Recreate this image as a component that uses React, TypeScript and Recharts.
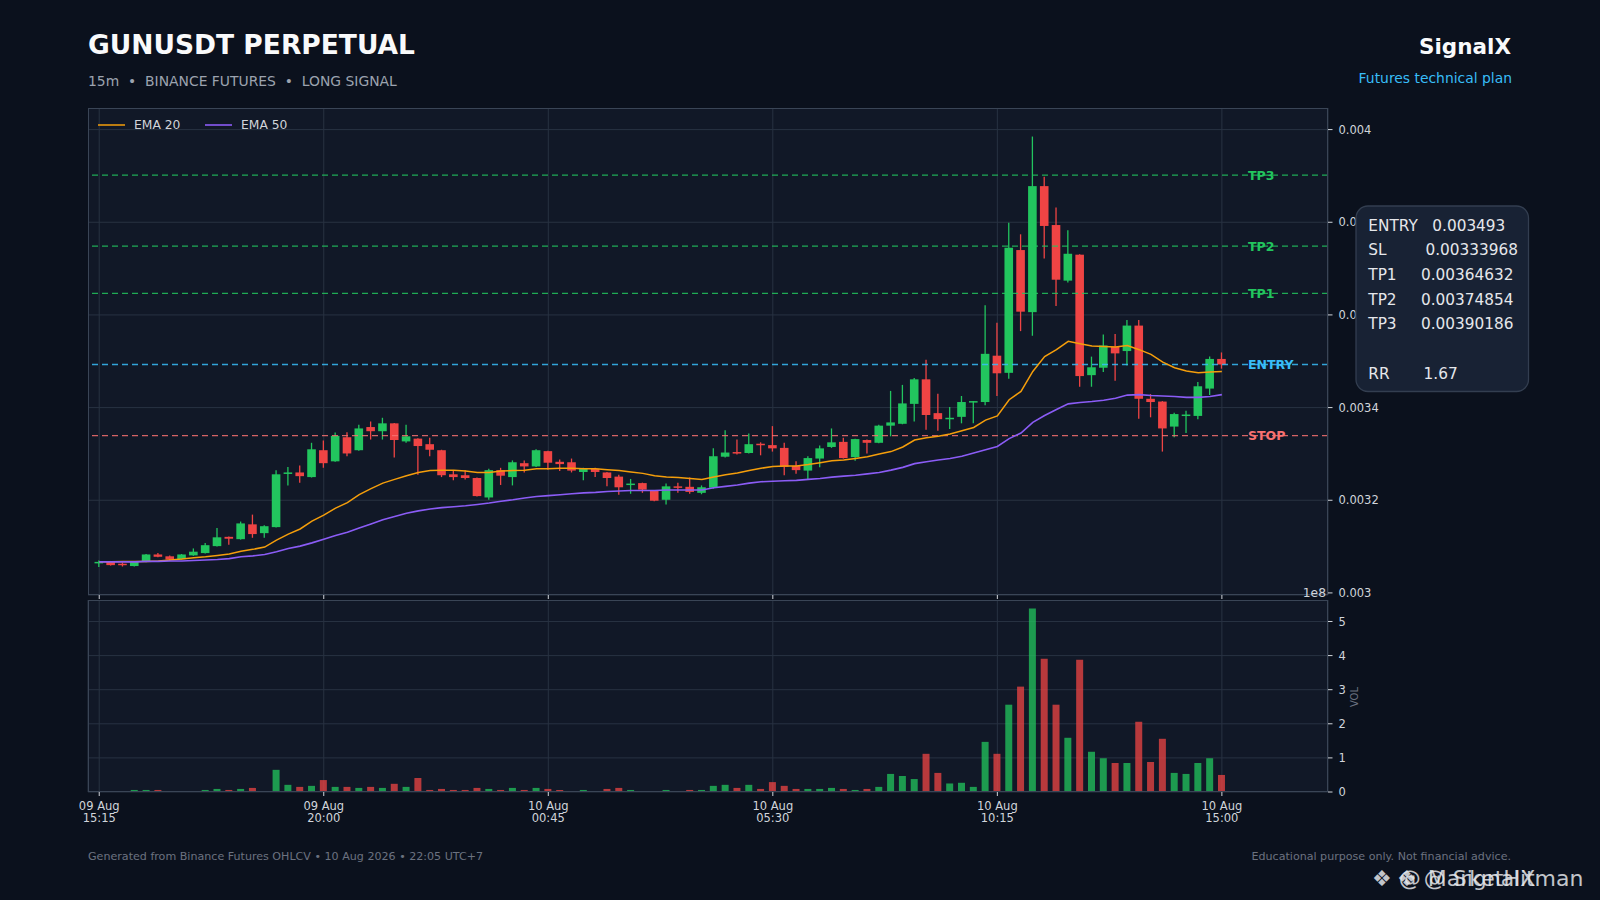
import React from 'react'
import {
  Bar, CartesianGrid, Cell, ComposedChart, Line, ReferenceLine, XAxis, YAxis,
} from 'recharts'

// 15m candles, 09 Aug 15:15 -> 10 Aug 15:00
const OPEN = [
  0.003066, 0.003068, 0.003063, 0.003058, 0.003067, 0.003083, 0.003079, 0.003073, 0.003081, 0.003086,
  0.003101, 0.003121, 0.003116, 0.003148, 0.003129, 0.003142, 0.003258, 0.003260, 0.003250, 0.003308,
  0.003284, 0.003336, 0.003308, 0.003358, 0.003349, 0.003366, 0.003327, 0.003333, 0.003321, 0.003308,
  0.003256, 0.003254, 0.003248, 0.003206, 0.003265, 0.003250, 0.003280, 0.003273, 0.003306, 0.003283,
  0.003282, 0.003261, 0.003268, 0.003260, 0.003251, 0.003233, 0.003237, 0.003222, 0.003201, 0.003230,
  0.003229, 0.003216, 0.003227, 0.003294, 0.003304, 0.003302, 0.003322, 0.003319, 0.003313, 0.003274,
  0.003264, 0.003290, 0.003315, 0.003326, 0.003293, 0.003330, 0.003324, 0.003361, 0.003365, 0.003408,
  0.003461, 0.003388, 0.003376, 0.003380, 0.003412, 0.003412, 0.003512, 0.003475, 0.003740, 0.003606,
  0.003878, 0.003794, 0.003674, 0.003730, 0.003470, 0.003486, 0.003531, 0.003522, 0.003577, 0.003419,
  0.003413, 0.003359, 0.003383, 0.003382, 0.003441, 0.003505,
]
const HIGH = [
  0.003070, 0.003069, 0.003066, 0.003068, 0.003084, 0.003086, 0.003081, 0.003084, 0.003096, 0.003108,
  0.003140, 0.003122, 0.003154, 0.003169, 0.003146, 0.003265, 0.003272, 0.003275, 0.003324, 0.003329,
  0.003346, 0.003347, 0.003363, 0.003370, 0.003378, 0.003367, 0.003363, 0.003334, 0.003335, 0.003309,
  0.003263, 0.003265, 0.003249, 0.003268, 0.003270, 0.003286, 0.003286, 0.003310, 0.003307, 0.003288,
  0.003290, 0.003270, 0.003270, 0.003261, 0.003255, 0.003246, 0.003238, 0.003222, 0.003236, 0.003238,
  0.003249, 0.003232, 0.003312, 0.003351, 0.003331, 0.003344, 0.003325, 0.003360, 0.003324, 0.003284,
  0.003295, 0.003318, 0.003355, 0.003335, 0.003333, 0.003331, 0.003363, 0.003436, 0.003449, 0.003464,
  0.003503, 0.003430, 0.003401, 0.003425, 0.003414, 0.003621, 0.003583, 0.003799, 0.003774, 0.003985,
  0.003898, 0.003832, 0.003783, 0.003731, 0.003510, 0.003558, 0.003559, 0.003589, 0.003589, 0.003429,
  0.003414, 0.003389, 0.003393, 0.003455, 0.003510, 0.003519,
]
const LOW = [
  0.003056, 0.003059, 0.003057, 0.003057, 0.003066, 0.003077, 0.003069, 0.003072, 0.003080, 0.003085,
  0.003100, 0.003104, 0.003115, 0.003119, 0.003119, 0.003141, 0.003232, 0.003238, 0.003249, 0.003270,
  0.003283, 0.003295, 0.003307, 0.003331, 0.003331, 0.003292, 0.003324, 0.003255, 0.003295, 0.003250,
  0.003243, 0.003245, 0.003208, 0.003201, 0.003233, 0.003232, 0.003260, 0.003272, 0.003266, 0.003263,
  0.003260, 0.003243, 0.003250, 0.003230, 0.003212, 0.003214, 0.003216, 0.003198, 0.003191, 0.003216,
  0.003214, 0.003213, 0.003225, 0.003292, 0.003299, 0.003301, 0.003297, 0.003305, 0.003254, 0.003257,
  0.003246, 0.003271, 0.003313, 0.003290, 0.003285, 0.003301, 0.003323, 0.003338, 0.003364, 0.003370,
  0.003352, 0.003350, 0.003354, 0.003366, 0.003366, 0.003405, 0.003425, 0.003462, 0.003565, 0.003555,
  0.003722, 0.003619, 0.003670, 0.003445, 0.003445, 0.003477, 0.003458, 0.003491, 0.003376, 0.003379,
  0.003305, 0.003336, 0.003345, 0.003375, 0.003427, 0.003484,
]
const CLOSE = [
  0.003067, 0.003060, 0.003060, 0.003067, 0.003083, 0.003078, 0.003072, 0.003083, 0.003089, 0.003103,
  0.003120, 0.003117, 0.003150, 0.003127, 0.003144, 0.003256, 0.003260, 0.003252, 0.003310, 0.003280,
  0.003339, 0.003301, 0.003355, 0.003349, 0.003366, 0.003330, 0.003338, 0.003317, 0.003309, 0.003254,
  0.003250, 0.003248, 0.003209, 0.003265, 0.003253, 0.003282, 0.003273, 0.003308, 0.003281, 0.003278,
  0.003264, 0.003269, 0.003261, 0.003248, 0.003228, 0.003236, 0.003223, 0.003199, 0.003230, 0.003227,
  0.003218, 0.003228, 0.003295, 0.003303, 0.003303, 0.003321, 0.003320, 0.003312, 0.003272, 0.003265,
  0.003291, 0.003312, 0.003325, 0.003291, 0.003332, 0.003324, 0.003361, 0.003368, 0.003409, 0.003461,
  0.003384, 0.003375, 0.003378, 0.003412, 0.003414, 0.003516, 0.003474, 0.003745, 0.003607, 0.003878,
  0.003792, 0.003676, 0.003732, 0.003468, 0.003487, 0.003534, 0.003517, 0.003577, 0.003419, 0.003412,
  0.003355, 0.003386, 0.003385, 0.003446, 0.003505, 0.003493,
]
// volume in units of 1e8
const VOLUME = [
  0.03, 0.03, 0.03, 0.06, 0.06, 0.06, 0.01, 0.03, 0.03, 0.06,
  0.09, 0.06, 0.09, 0.12, 0.03, 0.65, 0.21, 0.15, 0.18, 0.35,
  0.15, 0.15, 0.12, 0.15, 0.12, 0.24, 0.15, 0.41, 0.06, 0.09,
  0.06, 0.06, 0.12, 0.09, 0.06, 0.12, 0.06, 0.12, 0.09, 0.06,
  0.03, 0.06, 0.03, 0.09, 0.12, 0.06, 0.03, 0.03, 0.06, 0.03,
  0.06, 0.06, 0.18, 0.21, 0.12, 0.21, 0.09, 0.29, 0.18, 0.09,
  0.09, 0.09, 0.12, 0.09, 0.06, 0.09, 0.15, 0.53, 0.47, 0.38,
  1.12, 0.56, 0.25, 0.27, 0.15, 1.47, 1.12, 2.56, 3.09, 5.38,
  3.91, 2.56, 1.59, 3.88, 1.18, 0.99, 0.85, 0.85, 2.06, 0.88,
  1.56, 0.56, 0.53, 0.85, 0.99, 0.50,
]
const EMA20 = [
  0.003067, 0.003067, 0.003068, 0.003068, 0.003068, 0.003069, 0.003071, 0.003073, 0.003076, 0.003078,
  0.003081, 0.003084, 0.003090, 0.003094, 0.003099, 0.003114, 0.003127, 0.003138, 0.003155, 0.003168,
  0.003183, 0.003195, 0.003212, 0.003225, 0.003237, 0.003245, 0.003253, 0.003260, 0.003264, 0.003265,
  0.003265, 0.003263, 0.003260, 0.003260, 0.003263, 0.003264, 0.003265, 0.003268, 0.003268, 0.003269,
  0.003269, 0.003268, 0.003268, 0.003266, 0.003264, 0.003261, 0.003258, 0.003253, 0.003250, 0.003249,
  0.003247, 0.003245, 0.003250, 0.003255, 0.003259, 0.003264, 0.003269, 0.003273, 0.003274, 0.003274,
  0.003277, 0.003281, 0.003285, 0.003287, 0.003290, 0.003294, 0.003300, 0.003305, 0.003315, 0.003330,
  0.003335, 0.003338, 0.003343, 0.003350, 0.003357, 0.003373, 0.003382, 0.003417, 0.003435, 0.003478,
  0.003510, 0.003525, 0.003543, 0.003538, 0.003533, 0.003532, 0.003531, 0.003534, 0.003525, 0.003515,
  0.003498, 0.003486, 0.003479, 0.003475, 0.003477, 0.003478,
]
const EMA50 = [
  0.003067, 0.003067, 0.003067, 0.003067, 0.003068, 0.003068, 0.003069, 0.003069, 0.003070, 0.003071,
  0.003072, 0.003074, 0.003078, 0.003080, 0.003083, 0.003089, 0.003096, 0.003101, 0.003108, 0.003116,
  0.003124, 0.003131, 0.003140, 0.003149, 0.003158, 0.003165, 0.003172, 0.003177, 0.003181, 0.003184,
  0.003186, 0.003188, 0.003191, 0.003194, 0.003198, 0.003201, 0.003205, 0.003208, 0.003210, 0.003212,
  0.003214, 0.003216, 0.003217, 0.003219, 0.003220, 0.003221, 0.003221, 0.003221, 0.003222, 0.003222,
  0.003222, 0.003222, 0.003227, 0.003230, 0.003233, 0.003237, 0.003240, 0.003241, 0.003242, 0.003243,
  0.003245, 0.003247, 0.003250, 0.003252, 0.003254, 0.003257, 0.003260, 0.003265, 0.003271, 0.003279,
  0.003283, 0.003287, 0.003290, 0.003295, 0.003302, 0.003309, 0.003316, 0.003333, 0.003345, 0.003368,
  0.003383, 0.003396, 0.003408, 0.003411, 0.003413, 0.003416, 0.003420, 0.003427, 0.003428, 0.003426,
  0.003425, 0.003424, 0.003422, 0.003422, 0.003424, 0.003428,
]

const TICK_INDEX = [0, 19, 38, 57, 76, 95]
const TICK_DATE = ['09 Aug', '09 Aug', '10 Aug', '10 Aug', '10 Aug', '10 Aug']
const TICK_TIME = ['15:15', '20:00', '00:45', '05:30', '10:15', '15:00']
const PRICE_TICKS = [0.003, 0.0032, 0.0034, 0.0036, 0.0038, 0.004]
const VOL_TICKS = [0, 1, 2, 3, 4, 5]

const LEVEL_NAMES = ['TP3', 'TP2', 'TP1', 'ENTRY', 'STOP']
const LEVEL_VALUES = [0.00390186, 0.00374854, 0.00364632, 0.003493, 0.00333968]

const PLAN_LINES = [
  'ENTRY   0.003493',
  'SL        0.00333968',
  'TP1     0.00364632',
  'TP2     0.00374854',
  'TP3     0.00390186',
  '',
  'RR       1.67',
]

const FONT = '"DejaVu Sans", sans-serif'
const UP = '#22c55e'
const DOWN = '#ef4444'
const LEVEL_COLORS: Record<string, string> = {
  TP3: '#22c55e', TP2: '#22c55e', TP1: '#22c55e', ENTRY: '#38bdf8', STOP: '#f87171',
}
const GRID = '#283242'
const SPINE = '#3a4556'
const TICK_TEXT = '#d1d5db'

// layout (px)
const PLOT_L = 88
const PLOT_W = 1240
const AXIS_W = 72
const PRICE_T = 108
const PRICE_H = 487
const VOL_T = 600
const VOL_H = 192
const PAD_L = 40 // room for the first time label

const rows = OPEN.map((o, i) => ({
  i,
  open: o,
  high: HIGH[i],
  low: LOW[i],
  close: CLOSE[i],
  range: [LOW[i], HIGH[i]],
  ema20: EMA20[i],
  ema50: EMA50[i],
  volume: VOLUME[i] * 1e8,
}))

const fmtPrice = (v: number) => String(Number(v.toFixed(4)))

function Candle(props: any) {
  const { x, y, width, height, payload } = props
  if (!payload || !Number.isFinite(y) || !Number.isFinite(height)) return null
  const top = Math.min(y, y + height)
  const h = Math.abs(height)
  const { open, close, high, low } = payload
  const toY = (v: number) => top + ((high - v) / (high - low)) * h
  const cx = x + width / 2
  const color = close >= open ? UP : DOWN
  const bTop = toY(Math.max(open, close))
  const bBot = toY(Math.min(open, close))
  const bw = 8.6
  return (
    <g>
      <line x1={cx} x2={cx} y1={top} y2={top + h} stroke={color} strokeWidth={1.3} />
      <rect x={cx - bw / 2} y={bTop} width={bw} height={Math.max(bBot - bTop, 1.5)} fill={color} />
    </g>
  )
}

function LevelLabel(name: string) {
  return (props: any) => {
    const vb = props.viewBox
    if (!vb) return null
    return (
      <text
        x={vb.x + vb.width - 80}
        y={vb.y}
        dy={4.5}
        fill={LEVEL_COLORS[name]}
        fontSize={12.5}
        fontWeight="bold"
        fontFamily={FONT}
      >
        {name}
      </text>
    )
  }
}

function TimeTick(props: any) {
  const { x, y, payload } = props
  const k = TICK_INDEX.indexOf(payload.value)
  if (k < 0) return null
  return (
    <text x={x} y={y} textAnchor="middle" fill={TICK_TEXT} fontSize={11.5} fontFamily={FONT}>
      <tspan x={x} dy={12.3}>{TICK_DATE[k]}</tspan>
      <tspan x={x} dy={11.4}>{TICK_TIME[k]}</tspan>
    </text>
  )
}

const X_DOMAIN: [number, number] = [-0.95, 103.98]

export default function App() {
  return (
    <div
      style={{
        position: 'absolute', left: 0, top: 0, width: 1600, height: 900,
        background: '#0b111d', overflow: 'hidden', fontFamily: FONT,
      }}
    >
      {/* Price panel */}
      <div style={{ position: 'absolute', left: PLOT_L, top: PRICE_T }}>
        <ComposedChart
          width={PLOT_W + AXIS_W}
          height={PRICE_H + 6}
          data={rows}
          margin={{ top: 0, right: 0, bottom: 0, left: 0 }}
        >
          <CartesianGrid stroke={GRID} strokeWidth={1} fill="#111827" />
          <XAxis
            type="number"
            dataKey="i"
            domain={X_DOMAIN}
            allowDataOverflow
            ticks={TICK_INDEX}
            tickFormatter={() => ''}
            height={6}
            tickSize={4}
            axisLine={false}
            tickLine={{ stroke: TICK_TEXT }}
          />
          <YAxis
            orientation="right"
            type="number"
            domain={[0.0029955, 0.0040466]}
            allowDataOverflow
            ticks={PRICE_TICKS}
            width={AXIS_W}
            tickSize={4.5}
            tickMargin={6}
            axisLine={false}
            tickLine={{ stroke: TICK_TEXT }}
            tick={{ fill: TICK_TEXT, fontSize: 11.5, fontFamily: FONT }}
            tickFormatter={fmtPrice}
          />
          <Bar
            dataKey="range"
            barSize={9}
            shape={(p: any) => <Candle {...p} />}
            isAnimationActive={false}
          />
          {LEVEL_NAMES.map((name, k) => (
            <ReferenceLine
              key={name}
              y={LEVEL_VALUES[k]}
              stroke={LEVEL_COLORS[name]}
              strokeOpacity={0.85}
              strokeWidth={1.3}
              strokeDasharray="6 4"
              label={LevelLabel(name)}
            />
          ))}
          <Line
            type="linear"
            dataKey="ema20"
            stroke="#f59e0b"
            strokeWidth={1.5}
            dot={false}
            isAnimationActive={false}
          />
          <Line
            type="linear"
            dataKey="ema50"
            stroke="#8b5cf6"
            strokeWidth={1.6}
            dot={false}
            isAnimationActive={false}
          />
        </ComposedChart>
      </div>
      <div
        style={{
          position: 'absolute', left: PLOT_L, top: PRICE_T, width: PLOT_W, height: PRICE_H,
          border: `1px solid ${SPINE}`, boxSizing: 'border-box', pointerEvents: 'none',
        }}
      />

      {/* Volume panel */}
      <div style={{ position: 'absolute', left: PLOT_L - PAD_L, top: VOL_T }}>
        <ComposedChart
          width={PAD_L + PLOT_W + AXIS_W}
          height={VOL_H + 40}
          data={rows}
          margin={{ top: 0, right: 0, bottom: 0, left: PAD_L }}
        >
          <CartesianGrid stroke={GRID} strokeWidth={1} fill="#111827" />
          <XAxis
            type="number"
            dataKey="i"
            domain={X_DOMAIN}
            allowDataOverflow
            ticks={TICK_INDEX}
            height={40}
            tickSize={4}
            axisLine={false}
            tickLine={{ stroke: TICK_TEXT }}
            tick={(p: any) => <TimeTick {...p} />}
          />
          <YAxis
            orientation="right"
            type="number"
            domain={[0, 5.63e8]}
            allowDataOverflow
            ticks={VOL_TICKS.map((v) => v * 1e8)}
            width={AXIS_W}
            tickSize={4.5}
            tickMargin={6}
            axisLine={false}
            tickLine={{ stroke: TICK_TEXT }}
            tick={{ fill: TICK_TEXT, fontSize: 11.5, fontFamily: FONT }}
            tickFormatter={(v: number) => String(Math.round(v / 1e8))}
          />
          <Bar dataKey="volume" barSize={7} isAnimationActive={false}>
            {rows.map((r) => (
              <Cell key={r.i} fill={r.close >= r.open ? UP : DOWN} fillOpacity={0.75} />
            ))}
          </Bar>
        </ComposedChart>
      </div>
      <div
        style={{
          position: 'absolute', left: PLOT_L, top: VOL_T, width: PLOT_W, height: VOL_H,
          border: `1px solid ${SPINE}`, boxSizing: 'border-box', pointerEvents: 'none',
        }}
      />

      {/* Text overlay: header, legend, plan box, footer */}
      <svg
        width={1600}
        height={900}
        style={{ position: 'absolute', left: 0, top: 0, pointerEvents: 'none' }}
        fontFamily={FONT}
      >
        <text x={88} y={54} fill="#f9fafb" fontSize={26.5} fontWeight="bold">GUNUSDT PERPETUAL</text>
        <text x={88} y={86} fill="#9ca3af" fontSize={13.9} style={{ whiteSpace: 'pre' }}>
          {'15m  •  BINANCE FUTURES  •  LONG SIGNAL'}
        </text>
        <text x={1511} y={54} fill="#f9fafb" fontSize={21.5} fontWeight="bold" textAnchor="end">SignalX</text>
        <text x={1512} y={83} fill="#38bdf8" fontSize={13.9} textAnchor="end">Futures technical plan</text>

        {/* legend */}
        <line x1={98} x2={125} y1={125} y2={125} stroke="#f59e0b" strokeWidth={1.5} />
        <text x={134} y={129.3} fill={TICK_TEXT} fontSize={12.3}>EMA 20</text>
        <line x1={205} x2={232} y1={125} y2={125} stroke="#8b5cf6" strokeWidth={1.6} />
        <text x={241} y={129.3} fill={TICK_TEXT} fontSize={12.3}>EMA 50</text>

        {/* volume axis extras */}
        <text x={1326} y={597} fill={TICK_TEXT} fontSize={12.3} textAnchor="end">1e8</text>
        <text
          x={1354}
          y={697}
          fill="#6b7280"
          fontSize={10}
          textAnchor="middle"
          transform="rotate(-90 1354 697)"
          dy={3.5}
        >
          VOL
        </text>

        {/* trade plan box */}
        <rect x={1356} y={206} width={172.5} height={185.5} rx={12} fill="#182234" stroke="#333e50" strokeWidth={1.3} />
        {PLAN_LINES.map((t, k) => (
          <text key={k} x={1368.3} y={230.5 + k * 24.7} fill="#e5e7eb" fontSize={15.3} style={{ whiteSpace: 'pre' }}>
            {t}
          </text>
        ))}

        {/* footer */}
        <text x={88} y={860} fill="#6b7280" fontSize={11.1}>
          Generated from Binance Futures OHLCV • 10 Aug 2026 • 22:05 UTC+7
        </text>
        <text x={1511} y={860} fill="#6b7280" fontSize={11.1} textAnchor="end">
          Educational purpose only. Not financial advice.
        </text>
        <text x={1372} y={886} fill="#e5e7eb" fillOpacity={0.85} fontSize={22} style={{ whiteSpace: 'pre' }}>
          {'❖ @ MarketHitman'}
        </text>
        <text x={1397} y={886} fill="#e5e7eb" fillOpacity={0.85} fontSize={22} style={{ whiteSpace: 'pre' }}>
          {'❖ @ SignalX'}
        </text>
      </svg>
    </div>
  )
}
